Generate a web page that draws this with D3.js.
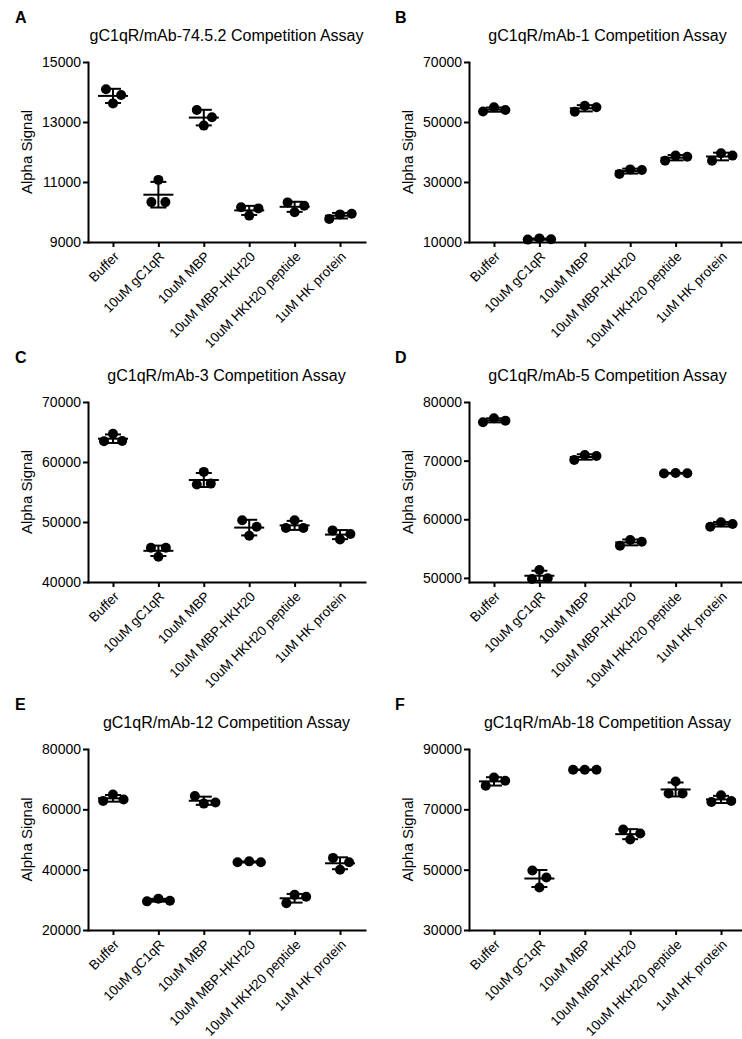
<!DOCTYPE html>
<html>
<head>
<meta charset="utf-8">
<script src="https://cdn.jsdelivr.net/npm/d3@7"></script>
<style>
  body { margin: 0; background: #fff; }
  svg { font-family: "Liberation Sans", Arial, sans-serif; }
</style>
</head>
<body>
<div id="chart"></div>
<script>
// x categories shared by all six panels
var categories = ["Buffer", "10uM gC1qR", "10uM MBP", "10uM MBP-HKH20", "10uM HKH20 peptide", "1uM HK protein"];

var panelLetters = ["A", "B", "C", "D", "E", "F"];
var panelTitles = [
    "gC1qR/mAb-74.5.2 Competition Assay",
    "gC1qR/mAb-1 Competition Assay",
    "gC1qR/mAb-3 Competition Assay",
    "gC1qR/mAb-5 Competition Assay",
    "gC1qR/mAb-12 Competition Assay",
    "gC1qR/mAb-18 Competition Assay"
];

// y ticks and domains per panel
var yTicksA = [9000, 11000, 13000, 15000];
var yTicksB = [10000, 30000, 50000, 70000];
var yTicksC = [40000, 50000, 60000, 70000];
var yTicksD = [50000, 60000, 70000, 80000];
var yTicksE = [20000, 40000, 60000, 80000];
var yTicksF = [30000, 50000, 70000, 90000];

var yDomainA = [9000, 15000];
var yDomainB = [10000, 70000];
var yDomainC = [40000, 70000];
var yDomainD = [49300, 80000];
var yDomainE = [20000, 80000];
var yDomainF = [30000, 90000];

// replicate values per category, listed left / centre / right as plotted
var valuesA = [[14090, 13620, 13900], [10330, 11070, 10330], [13400, 12880, 13160],
               [10160, 9880, 10120], [10320, 9990, 10210], [9770, 9920, 9940]];
var valuesB = [[53500, 54900, 54000], [10800, 11200, 10900], [53400, 55400, 54900],
               [32700, 34200, 34000], [37100, 38800, 38400], [37100, 39600, 38800]];
var valuesC = [[63450, 64700, 63500], [45700, 44200, 45700], [56250, 58350, 56400],
               [50300, 47700, 49200], [49000, 50300, 49000], [48600, 47100, 48000]];
var valuesD = [[76550, 77230, 76820], [49800, 51350, 49950], [70100, 70970, 70800],
               [55500, 56470, 56180], [67800, 67900, 67850], [58730, 59490, 59200]];
var valuesE = [[62800, 64900, 63250], [29500, 30400, 29700], [64400, 61900, 62250],
               [42450, 42750, 42450], [28900, 31650, 31000], [43900, 40000, 42450]];
var valuesF = [[77800, 80550, 79450], [49700, 44100, 47400], [83100, 83150, 83100],
               [63300, 60000, 62000], [75250, 79250, 75250], [72450, 74650, 72750]];

var allTicks = [yTicksA, yTicksB, yTicksC, yTicksD, yTicksE, yTicksF];
var allDomains = [yDomainA, yDomainB, yDomainC, yDomainD, yDomainE, yDomainF];
var allValues = [valuesA, valuesB, valuesC, valuesD, valuesE, valuesF];

var width = 742, height = 1039;

// panel frames: left column / right column, three rows
var colX = [{x0: 88, x1: 365, letterX: 15}, {x0: 469, x1: 746, letterX: 395}];
var rowY = [{y0: 62, y1: 242}, {y0: 402, y1: 582}, {y0: 749, y1: 930}];

var dotR = 5;
var swarmD = 11.7;   // spacing used for side-by-side dots
var minOff = 7;
var meanHalf = 15, capHalf = 8;

var svg = d3.select('#chart')
    .append('svg')
    .attr('width', width)
    .attr('height', height);

panelLetters.forEach(function(letter, i) {
    var col = colX[i % 2];
    var row = rowY[Math.floor(i / 2)];

    var g = svg.append('g').attr('class', 'panel');

    var x = d3.scalePoint()
        .domain(categories)
        .range([col.x0, col.x1])
        .padding(0.55);

    var y = d3.scaleLinear()
        .domain(allDomains[i])
        .range([row.y1, row.y0]);

    // panel letter and title
    g.append('text')
        .attr('x', col.letterX)
        .attr('y', row.y0 - 39)
        .style('font-size', '16px')
        .style('font-weight', 'bold')
        .text(letter);

    g.append('text')
        .attr('x', (col.x0 + col.x1) / 2)
        .attr('y', row.y0 - 21)
        .attr('text-anchor', 'middle')
        .style('font-size', '16px')
        .text(panelTitles[i]);

    // y axis title
    g.append('text')
        .attr('transform', 'translate(' + (col.x0 - 56) + ',' + ((row.y0 + row.y1) / 2) + ') rotate(-90)')
        .attr('text-anchor', 'middle')
        .style('font-size', '15px')
        .text('Alpha Signal');

    // data: error bars, means, dots
    allValues[i].forEach(function(vals, ci) {
        var cx = x(categories[ci]);
        var mean = d3.mean(vals);
        var sd = d3.deviation(vals);

        var eg = g.append('g').attr('stroke', '#000').attr('stroke-width', 2);
        eg.append('line')
            .attr('x1', cx).attr('x2', cx)
            .attr('y1', y(mean - sd)).attr('y2', y(mean + sd));
        [mean - sd, mean + sd].forEach(function(v) {
            eg.append('line')
                .attr('x1', cx - capHalf).attr('x2', cx + capHalf)
                .attr('y1', y(v)).attr('y2', y(v));
        });
        eg.append('line')
            .attr('x1', cx - meanHalf).attr('x2', cx + meanHalf)
            .attr('y1', y(mean)).attr('y2', y(mean));

        // side dots move out just enough to clear the centre dot
        var yc = y(vals[1]);
        var pts = vals.map(function(v, k) {
            var dx = 0;
            if (k !== 1) {
                var dy = Math.abs(y(v) - yc);
                var off = Math.sqrt(Math.max(0, swarmD * swarmD - dy * dy));
                dx = (k === 0 ? -1 : 1) * Math.max(minOff, off);
            }
            return {x: cx + dx, y: y(v)};
        });

        g.selectAll('.dot-' + ci)
            .data(pts)
            .enter()
            .append('circle')
            .attr('class', 'dot-' + ci)
            .attr('cx', function(d) { return d.x; })
            .attr('cy', function(d) { return d.y; })
            .attr('r', dotR)
            .attr('fill', '#000');
    });

    // axes
    var yAxis = g.append('g')
        .attr('transform', 'translate(' + col.x0 + ',0)')
        .call(d3.axisLeft(y).tickValues(allTicks[i]).tickSize(5).tickSizeOuter(0).tickPadding(2).tickFormat(d3.format('d')));

    var xAxis = g.append('g')
        .attr('transform', 'translate(0,' + row.y1 + ')')
        .call(d3.axisBottom(x).tickSize(5).tickSizeOuter(0));

    [yAxis, xAxis].forEach(function(ax) {
        ax.select('.domain').attr('stroke-width', 2).attr('stroke-linecap', 'square');
        ax.selectAll('.tick line').attr('stroke-width', 2);
        ax.selectAll('.tick text').style('font-size', '14px').attr('fill', '#000');
    });

    xAxis.selectAll('.tick text')
        .attr('x', 0)
        .attr('y', 0)
        .attr('dy', '0.35em')
        .attr('transform', 'translate(3,12) rotate(-45)')
        .style('font-size', '13.5px')
        .style('text-anchor', 'end');
});
</script>
</body>
</html>
